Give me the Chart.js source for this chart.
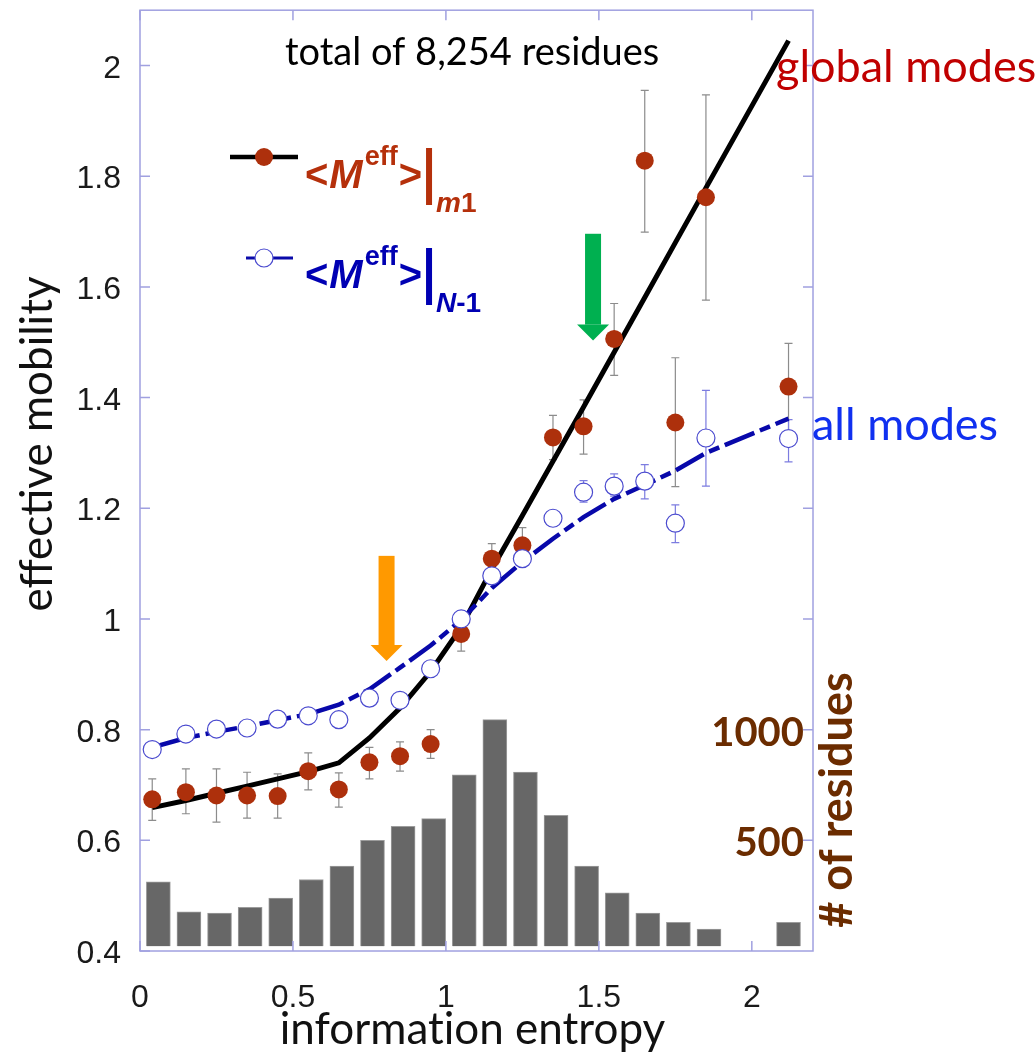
<!DOCTYPE html>
<html>
<head>
<meta charset="utf-8">
<script src="https://cdn.jsdelivr.net/npm/chart.js@4/dist/chart.umd.min.js"></script>
<style>
  html, body { margin: 0; padding: 0; background: #fff; }
</style>
</head>
<body>
<canvas id="mobilityChart" width="1036" height="1055"></canvas>
<script>
// entropy bins (x) for the averaged points and fitted curves
const binX = [0.04, 0.15, 0.25, 0.35, 0.45, 0.55, 0.65, 0.75, 0.85, 0.95,
              1.05, 1.15, 1.25, 1.35, 1.45, 1.55, 1.65, 1.75, 1.85, 2.12];

// <M_eff>|m1 (global modes), filled red points + error bars
const globalMob = [0.674, 0.687, 0.681, 0.681, 0.680, 0.725, 0.692, 0.741, 0.752, 0.774,
                   0.973, 1.109, 1.133, 1.328, 1.348, 1.506, 1.828, 1.355, 1.762, 1.420];
const globalHi  = [0.711, 0.729, 0.729, 0.723, 0.720, 0.758, 0.722, 0.768, 0.778, 0.800,
                   0.990, 1.136, 1.165, 1.368, 1.396, 1.570, 1.955, 1.472, 1.947, 1.498];
const globalLo  = [0.636, 0.648, 0.633, 0.640, 0.640, 0.691, 0.660, 0.711, 0.725, 0.748,
                   0.942, 1.085, 1.100, 1.288, 1.298, 1.440, 1.699, 1.239, 1.576, 1.340];

// <M_eff>|N-1 (all modes), open blue circles + error bars
const allMob = [0.764, 0.792, 0.801, 0.803, 0.819, 0.825, 0.818, 0.857, 0.853, 0.910,
                1.000, 1.078, 1.109, 1.182, 1.229, 1.240, 1.249, 1.173, 1.327, 1.326];
const allHi  = [null, null, null, null, null, null, null, null, null, null,
                null, null, null, null, 1.250, 1.262, 1.279, 1.206, 1.413, 1.360];
const allLo  = [null, null, null, null, null, null, null, null, null, null,
                null, null, null, null, 1.211, 1.222, 1.217, 1.138, 1.240, 1.284];

// fitted curves
const fitGlobal = [0.659, 0.672, 0.685, 0.698, 0.711, 0.724, 0.740, 0.785, 0.839, 0.905,
                   0.985, 1.090, 1.187, 1.285, 1.383, 1.482, 1.581, 1.680, 1.779, 2.045];
const fitAll    = [0.768, 0.785, 0.796, 0.806, 0.817, 0.828, 0.845, 0.873, 0.912, 0.952,
                   0.998, 1.056, 1.103, 1.145, 1.184, 1.217, 1.242, 1.268, 1.300, 1.362];

// histogram: # of residues per entropy bin
const histX     = [0.06, 0.16, 0.26, 0.36, 0.46, 0.56, 0.66, 0.76, 0.86, 0.96,
                   1.06, 1.16, 1.26, 1.36, 1.46, 1.56, 1.66, 1.76, 1.86, 2.12];
const histCount = [312, 177, 171, 197, 239, 323, 384, 500, 563, 598,
                   796, 1045, 808, 613, 384, 263, 171, 129, 99, 129];

// axis ticks
const xTicks = [0, 0.5, 1, 1.5, 2];
const yTicks = [0.4, 0.6, 0.8, 1, 1.2, 1.4, 1.6, 1.8, 2];
const countTicks = [500, 1000];
const countTickMarks = [500, 1000, 1500, 2000, 2500, 3000, 3500, 4000];

const RED = '#AD300C';
const BLUE_PT = '#4B4BCF';
const FRAME = '#A0A0E0';

const pts = (xs, ys) => xs.map((x, i) => ({ x: x, y: ys[i] }));

function arrow(ctx, x, yTop, yTip, color) {
  ctx.save();
  ctx.fillStyle = color;
  ctx.fillRect(x - 8, yTop, 16, yTip - yTop - 16);
  ctx.beginPath();
  ctx.moveTo(x - 16, yTip - 16);
  ctx.lineTo(x + 16, yTip - 16);
  ctx.lineTo(x, yTip);
  ctx.closePath();
  ctx.fill();
  ctx.restore();
}

function legendLabel(ctx, x, base, color, sub) {
  ctx.save();
  ctx.fillStyle = color;
  ctx.textBaseline = 'alphabetic';
  ctx.textAlign = 'left';
  ctx.font = 'bold 40px "Liberation Sans"';
  ctx.fillText('<', x, base); x += ctx.measureText('<').width + 1;
  ctx.font = 'italic bold 40px "Liberation Sans"';
  ctx.fillText('M', x, base); x += ctx.measureText('M').width + 2;
  ctx.font = 'bold 27px "Liberation Sans"';
  ctx.fillText('eff', x, base - 23); x += ctx.measureText('eff').width + 1;
  ctx.font = 'bold 40px "Liberation Sans"';
  ctx.fillText('>', x, base); x += ctx.measureText('>').width + 4;
  ctx.fillRect(x, base - 40, 6, 57); x += 10;
  ctx.font = 'italic bold 28px "Liberation Sans"';
  ctx.fillText(sub[0], x, base + 24); x += ctx.measureText(sub[0]).width;
  ctx.font = 'bold 28px "Liberation Sans"';
  ctx.fillText(sub[1], x, base + 24);
  ctx.restore();
}

const decor = {
  id: 'decor',
  afterDatasetDraw(chart, args) {
    if (args.index !== 0) return;
    const ctx = chart.ctx, sx = chart.scales.x, sy = chart.scales.y;
    ctx.save();
    ctx.lineWidth = 1.2;
    const bars = (hi, lo, color) => {
      ctx.strokeStyle = color;
      binX.forEach((bx, i) => {
        if (hi[i] == null) return;
        const px = sx.getPixelForValue(bx);
        const t = sy.getPixelForValue(hi[i]), b = sy.getPixelForValue(lo[i]);
        ctx.beginPath();
        ctx.moveTo(px, t); ctx.lineTo(px, b);
        ctx.moveTo(px - 4, t); ctx.lineTo(px + 4, t);
        ctx.moveTo(px - 4, b); ctx.lineTo(px + 4, b);
        ctx.stroke();
      });
    };
    bars(globalHi, globalLo, '#8C8C8C');
    bars(allHi, allLo, '#7C7CE0');
    ctx.restore();
  },
  afterDraw(chart) {
    const ctx = chart.ctx, a = chart.chartArea;
    const sx = chart.scales.x, sy = chart.scales.y, sc = chart.scales.y2;
    ctx.save();

    // frame and inward ticks
    ctx.strokeStyle = FRAME;
    ctx.lineWidth = 1.5;
    ctx.strokeRect(a.left, a.top, a.right - a.left, a.bottom - a.top);
    ctx.beginPath();
    yTicks.forEach(v => {
      const py = sy.getPixelForValue(v);
      ctx.moveTo(a.left, py); ctx.lineTo(a.left + 10, py);
    });
    countTickMarks.forEach(v => {
      const py = sc.getPixelForValue(v);
      ctx.moveTo(a.right, py); ctx.lineTo(a.right - 10, py);
    });
    xTicks.forEach(v => {
      const px = sx.getPixelForValue(v);
      ctx.moveTo(px, a.bottom); ctx.lineTo(px, a.bottom - 10);
      ctx.moveTo(px, a.top); ctx.lineTo(px, a.top + 10);
    });
    ctx.stroke();

    // tick labels
    ctx.fillStyle = '#1a1a1a';
    ctx.font = '32px "Liberation Sans"';
    ctx.textBaseline = 'alphabetic';
    ctx.textAlign = 'right';
    yTicks.forEach(v => ctx.fillText(String(v), 121, sy.getPixelForValue(v) + 12));
    ctx.textAlign = 'center';
    xTicks.forEach(v => ctx.fillText(String(v), sx.getPixelForValue(v), 1007));

    ctx.fillStyle = '#6B2C00';
    ctx.font = 'bold 40px Lato';
    ctx.textAlign = 'right';
    countTicks.forEach(v => ctx.fillText(String(v), a.right - 9, sc.getPixelForValue(v) + 16));

    // axis titles (x title drawn in two parts so Lato does not form a "ti" ligature)
    ctx.fillStyle = '#111';
    ctx.font = '44px Lato';
    ctx.textAlign = 'left';
    const t1 = 'informat', t2 = 'ion entropy';
    const w1 = ctx.measureText(t1).width, w2 = ctx.measureText(t2).width;
    const tx = (a.left + a.right) / 2 - 4 - (w1 + w2) / 2;
    ctx.fillText(t1, tx, 1044);
    ctx.fillText(t2, tx + w1, 1044);
    ctx.textAlign = 'center';
    ctx.save();
    ctx.translate(52, 444);
    ctx.rotate(-Math.PI / 2);
    ctx.fillText('effective mobility', 0, 0);
    ctx.restore();
    ctx.save();
    ctx.fillStyle = '#6B2C00';
    ctx.font = 'bold 45px Lato';
    ctx.translate(852, 800);
    ctx.rotate(-Math.PI / 2);
    ctx.fillText('# of residues', 0, 0);
    ctx.restore();

    // annotations
    ctx.textAlign = 'left';
    ctx.fillStyle = '#000';
    ctx.font = '38px Lato';
    ctx.fillText('total of 8,254 residues', 285, 65);
    ctx.fillStyle = '#C00000';
    ctx.font = '45px Lato';
    ctx.fillText('global modes', 776, 82);
    ctx.fillStyle = '#1030F0';
    ctx.fillText('all modes', 812, 440);

    arrow(ctx, sx.getPixelForValue(0.806), sy.getPixelForValue(1.114), sy.getPixelForValue(0.924), '#FF9900');
    arrow(ctx, sx.getPixelForValue(1.481), sy.getPixelForValue(1.696), sy.getPixelForValue(1.503), '#00B050');

    // legend
    ctx.strokeStyle = '#000';
    ctx.lineWidth = 4.5;
    ctx.beginPath(); ctx.moveTo(230, 157); ctx.lineTo(298, 157); ctx.stroke();
    ctx.fillStyle = RED;
    ctx.beginPath(); ctx.arc(264, 157, 9, 0, Math.PI * 2); ctx.fill();
    legendLabel(ctx, 305, 188, '#B5300B', ['m', '1']);

    ctx.strokeStyle = '#0A0AAA';
    ctx.lineWidth = 3;
    ctx.beginPath(); ctx.moveTo(246, 258); ctx.lineTo(293, 258); ctx.stroke();
    ctx.fillStyle = '#fff';
    ctx.strokeStyle = BLUE_PT;
    ctx.lineWidth = 1.2;
    ctx.beginPath(); ctx.arc(264, 258, 9, 0, Math.PI * 2); ctx.fill(); ctx.stroke();
    legendLabel(ctx, 305, 288, '#0000B3', ['N', '-1']);

    ctx.restore();
  }
};

new Chart(document.getElementById('mobilityChart').getContext('2d'), {
  data: {
    datasets: [
      {
        type: 'bar',
        label: '# of residues',
        data: pts(histX, histCount),
        yAxisID: 'y2',
        backgroundColor: '#676767',
        borderColor: '#9c9c9c',
        borderWidth: 1,
        barThickness: 24,
        base: 22,
        order: 5
      },
      {
        type: 'line',
        label: 'fit m1',
        data: pts(binX, fitGlobal),
        borderColor: '#000',
        borderWidth: 5,
        pointRadius: 0,
        fill: false,
        tension: 0,
        order: 4
      },
      {
        type: 'line',
        label: 'fit N-1',
        data: pts(binX, fitAll),
        borderColor: '#0808AA',
        borderWidth: 4.5,
        borderDash: [32, 6, 11, 6],
        pointRadius: 0,
        fill: false,
        tension: 0,
        order: 3
      },
      {
        type: 'scatter',
        label: '<Meff>|m1',
        data: pts(binX, globalMob),
        pointRadius: 9,
        pointBackgroundColor: RED,
        pointBorderWidth: 0,
        order: 2
      },
      {
        type: 'scatter',
        label: '<Meff>|N-1',
        data: pts(binX, allMob),
        pointRadius: 9,
        pointBackgroundColor: '#fff',
        pointBorderColor: BLUE_PT,
        pointBorderWidth: 1.2,
        order: 1
      }
    ]
  },
  options: {
    responsive: false,
    animation: false,
    devicePixelRatio: 1,
    layout: { padding: { left: 140, right: 223, top: 9, bottom: 104 } },
    plugins: { legend: { display: false }, tooltip: { enabled: false } },
    scales: {
      x: { type: 'linear', display: false, offset: false, min: 0, max: 2.2 },
      y: { type: 'linear', display: false, min: 0.4, max: 2.1 },
      y2: { type: 'linear', display: false, min: 0, max: 4250 }
    }
  },
  plugins: [decor]
});
</script>
</body>
</html>
